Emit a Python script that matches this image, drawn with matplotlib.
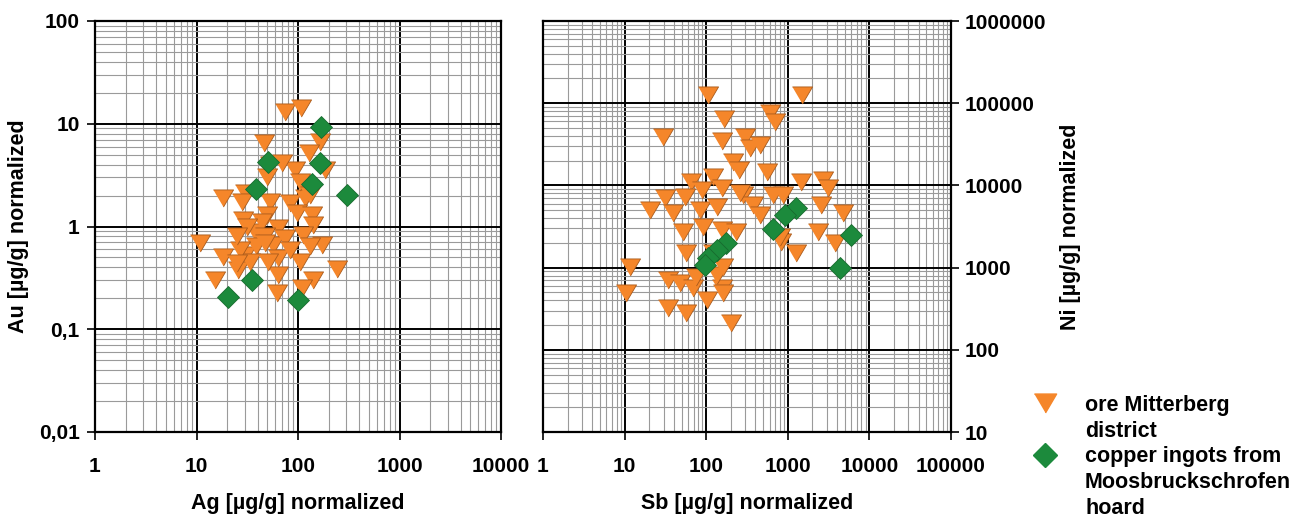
import numpy as np
import matplotlib
matplotlib.use("Agg")
import matplotlib.pyplot as plt
from matplotlib.ticker import LogLocator, FixedLocator, FixedFormatter, NullFormatter
from matplotlib.lines import Line2D

plt.rcParams['font.family'] = ['Liberation Sans', 'DejaVu Sans']
plt.rcParams['font.weight'] = 'bold'

# Ag / Au (left panel)
ag_ore = [74.5, 107, 46, 165, 128, 53, 93, 69, 49, 18.1, 30, 53, 83, 117, 185, 105, 131,
          28.7, 49, 97, 136, 141, 37.7, 63.5, 112, 10.8, 18.2, 30, 39, 57, 171, 63.5, 105,
          240, 25.6, 63.5, 141, 15.2, 62, 109, 44, 74.5, 83, 47, 33.6, 50.6, 131, 26.8,
          31.2, 24.9, 27.9, 24.9, 47]
au_ore = [13.1, 14.1, 6.5, 6.7, 5.2, 4.0, 3.55, 4.15, 3.05, 1.88, 2.12, 1.74, 1.69, 1.89,
          3.55, 2.73, 2.03, 1.16, 1.29, 1.34, 1.29, 1.03, 0.89, 0.97, 0.83, 0.69, 0.51, 0.53,
          0.64, 0.66, 0.66, 0.49, 0.45, 0.39, 0.38, 0.34, 0.30, 0.30, 0.225, 0.25, 1.1, 0.77,
          0.59, 0.81, 0.45, 0.45, 0.64, 0.59, 1.0, 0.80, 1.74, 0.44, 0.69]
ag_ingot = [169, 51, 165, 136, 38.3, 302, 35, 20.4, 100]
au_ingot = [9.2, 4.27, 4.12, 2.57, 2.30, 2.03, 0.30, 0.207, 0.193]

# Sb / Ni (right panel)
sb_ore = [105, 1490, 29.7, 164, 600, 692, 154, 297, 342, 453, 213, 253, 563, 66, 121, 90,
          154, 283, 375, 453, 31, 20.4, 39, 54.7, 83.5, 134, 52, 92, 154, 235, 659, 873,
          1466, 2700, 3100, 2580, 4740, 2340, 3750, 835, 1275, 11.6, 10.4, 34, 47.5, 69,
          154, 34, 57, 101, 161, 204, 57, 121, 134, 796, 161, 76, 258]
ni_ore = [126000, 126000, 39000, 63700, 75300, 59500, 35000, 39000, 28300, 31000, 19400,
          15400, 14700, 11100, 12800, 8800, 9200, 7640, 5780, 4365, 6970, 5020, 4570, 7300,
          5020, 5500, 2735, 3150, 2870, 2735, 7640, 7640, 11100, 11640, 9220, 5780, 4570,
          2735, 1977, 2065, 1493, 1025, 487, 706, 644, 560, 560, 320, 278, 404, 487, 210,
          1493, 1493, 813, 2377, 1025, 775, 8000]
sb_ingot = [1275, 916, 659, 6000, 4320, 177, 134, 105, 96]
ni_ingot = [5260, 4365, 2925, 2493, 980, 1977, 1637, 1297, 1076]

# legend rows: marker only on the first line of each entry
legend_rows = [("ore", "ore Mitterberg"), (None, "district"),
               ("ingot", "copper ingots from"), (None, "Moosbruckschrofen"), (None, "hoard")]

orange = '#F5862A'
orange_edge = '#A85A1C'
green = '#1C8A3C'
green_edge = '#176A2E'
tri = [(-1, 0.85), (1, 0.85), (0, -0.85)]

fig = plt.figure(figsize=(13.07, 5.2), dpi=100)
ax1 = fig.add_axes([95 / 1307, 88 / 520, 406 / 1307, 411 / 520])
ax2 = fig.add_axes([543 / 1307, 88 / 520, 408 / 1307, 411 / 520])


def style_axis(ax, xmax, ymin, ymax):
    ax.set_xscale('log')
    ax.set_yscale('log')
    ax.set_xlim(1, xmax)
    ax.set_ylim(ymin, ymax)
    for a in (ax.xaxis, ax.yaxis):
        a.set_minor_locator(LogLocator(base=10, subs=np.arange(2, 10), numticks=50))
        a.set_minor_formatter(NullFormatter())
    ax.grid(True, which='minor', color='#9a9a9a', linewidth=0.8)
    ax.grid(True, which='major', color='black', linewidth=1.4)
    ax.set_axisbelow(True)
    for s in ax.spines.values():
        s.set_linewidth(1.6)
    ax.tick_params(which='minor', length=0)
    ax.tick_params(which='major', length=6, width=1.2, labelsize=15)
    ax.tick_params(axis='x', pad=12)
    ax.tick_params(axis='y', pad=5)


style_axis(ax1, 10000, 0.01, 100)
xt1 = [1, 10, 100, 1000, 10000]
ax1.xaxis.set_major_locator(FixedLocator(xt1))
ax1.xaxis.set_major_formatter(FixedFormatter(['1', '10', '100', '1000', '10000']))
yt1 = [0.01, 0.1, 1, 10, 100]
ax1.yaxis.set_major_locator(FixedLocator(yt1))
ax1.yaxis.set_major_formatter(FixedFormatter(['0,01', '0,1', '1', '10', '100']))

ax1.plot(ag_ore, au_ore, linestyle='none', marker=tri, markersize=14.5,
         markerfacecolor=orange, markeredgecolor=orange_edge, markeredgewidth=0.6, zorder=3)
ax1.plot(ag_ingot, au_ingot, linestyle='none', marker='D', markersize=11.5,
         markerfacecolor=green, markeredgecolor=green_edge, markeredgewidth=0.6, zorder=4)
ax1.set_xlabel('Ag [µg/g] normalized', fontsize=15.5, fontweight='bold', labelpad=12)
ax1.set_ylabel('Au [µg/g] normalized', fontsize=15.5, fontweight='bold', labelpad=7)

style_axis(ax2, 100000, 10, 1000000)
xt2 = [1, 10, 100, 1000, 10000, 100000]
ax2.xaxis.set_major_locator(FixedLocator(xt2))
ax2.xaxis.set_major_formatter(FixedFormatter([str(v) for v in xt2]))
yt2 = [10, 100, 1000, 10000, 100000, 1000000]
ax2.yaxis.set_major_locator(FixedLocator(yt2))
ax2.yaxis.set_major_formatter(FixedFormatter([str(v) for v in yt2]))
ax2.yaxis.tick_right()
ax2.yaxis.set_label_position('right')
ax2.tick_params(axis='y', pad=4)

ax2.plot(sb_ore, ni_ore, linestyle='none', marker=tri, markersize=14.5,
         markerfacecolor=orange, markeredgecolor=orange_edge, markeredgewidth=0.6, zorder=3)
ax2.plot(sb_ingot, ni_ingot, linestyle='none', marker='D', markersize=11.5,
         markerfacecolor=green, markeredgecolor=green_edge, markeredgewidth=0.6, zorder=4)
ax2.set_xlabel('Sb [µg/g] normalized', fontsize=15.5, fontweight='bold', labelpad=12)
ax2.set_ylabel('Ni [µg/g] normalized', fontsize=15.5, fontweight='bold', labelpad=10)

marker_styles = {
    "ore": dict(marker=tri, markersize=16, markerfacecolor=orange, markeredgecolor=orange),
    "ingot": dict(marker='D', markersize=12.5, markerfacecolor=green, markeredgecolor=green),
}
handles, labels = [], []
for kind, text in legend_rows:
    if kind is None:
        handles.append(Line2D([], [], linestyle='none', marker=None))
    else:
        handles.append(Line2D([], [], linestyle='none', **marker_styles[kind]))
    labels.append(text)

fig.legend(handles, labels, loc='upper left', bbox_to_anchor=(1028 / 1307, 1 - 395 / 520),
           frameon=False, prop={'size': 15.5, 'weight': 'bold'}, handlelength=1.6,
           handletextpad=1.05, labelspacing=0.22, borderaxespad=0, borderpad=0)

fig.savefig('out.png', dpi=100)
